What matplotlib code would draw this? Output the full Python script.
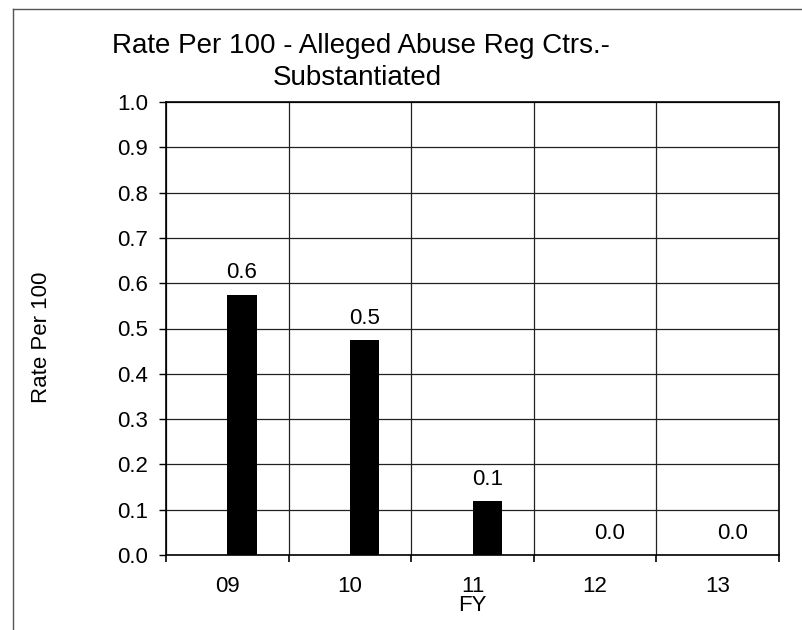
import matplotlib
matplotlib.use("Agg")
import matplotlib.pyplot as plt
from matplotlib.lines import Line2D

plt.rcParams['font.family'] = ['Liberation Sans', 'DejaVu Sans']

# data
years = ['09', '10', '11', '12', '13']
rates = [0.575, 0.475, 0.12, 0.0, 0.0]
y_ticks = [0.0, 0.1, 0.2, 0.3, 0.4, 0.5, 0.6, 0.7, 0.8, 0.9, 1.0]

fig = plt.figure(figsize=(8.03, 6.30), dpi=100)
ax = fig.add_axes([166 / 803, 1 - 555 / 630, (779 - 166) / 803, (555 - 102) / 630])

x = list(range(len(years)))
bar_w = 0.24
ax.bar(x, rates, width=bar_w, align='edge', color='black', zorder=3)

# value labels over each bar
for xi, r in zip(x, rates):
    ax.annotate(f"{r:.1f}", (xi + bar_w / 2, r), xytext=(0, 8),
                textcoords='offset points', ha='center', va='bottom', fontsize=16)

ax.set_xlim(-0.5, len(years) - 0.5)
ax.set_ylim(0, 1.0)
ax.set_yticks(y_ticks)
ax.set_yticklabels([f"{t:.1f}" for t in y_ticks])

ax.set_xticks(x)
ax.set_xticklabels(years)
ax.set_xticks([i - 0.5 for i in range(len(years) + 1)], minor=True)
ax.tick_params(axis='x', which='major', length=0, pad=15, labelsize=16)
ax.tick_params(axis='x', which='minor', length=5, width=1.2, direction='out')
ax.tick_params(axis='y', length=5, width=1.0, pad=8, labelsize=16)

ax.grid(True, axis='y', which='major', color='#222222', linewidth=0.9, zorder=0)
ax.grid(True, axis='x', which='minor', color='#222222', linewidth=0.9, zorder=0)

for s in ax.spines.values():
    s.set_linewidth(1.2)
    s.set_color('black')

ax.set_xlabel('FY', fontsize=16, labelpad=-1)

fig.text(42 / 803, 1 - 337 / 630, 'Rate Per 100', rotation=90,
         ha='center', va='center', fontsize=16)

fig.text(361 / 803, 1 - 46 / 630, 'Rate Per 100 - Alleged Abuse Reg Ctrs.-',
         ha='center', va='center', fontsize=20)
fig.text(357 / 803, 1 - 78 / 630, 'Substantiated',
         ha='center', va='center', fontsize=20)

# outer chart-area frame (only top and left edges fall inside the scan)
fig.add_artist(Line2D([13 / 803, 13 / 803], [0, 1 - 9 / 630], transform=fig.transFigure,
                      color='#555555', linewidth=1.0))
fig.add_artist(Line2D([13 / 803, 1], [1 - 9 / 630, 1 - 9 / 630], transform=fig.transFigure,
                      color='#555555', linewidth=1.0))

fig.savefig('out.png', dpi=100, facecolor='white')
